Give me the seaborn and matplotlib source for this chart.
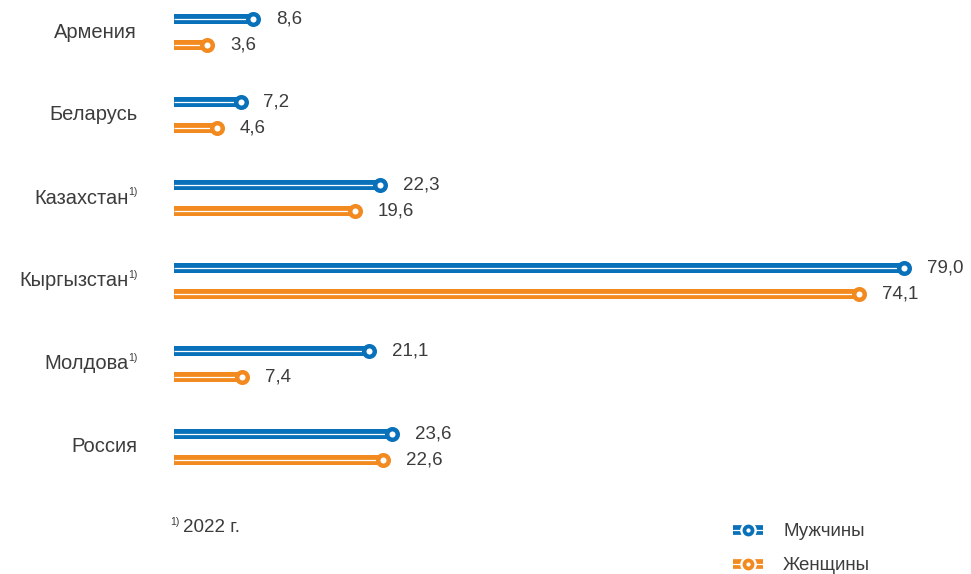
import matplotlib
matplotlib.use("Agg")
import matplotlib.pyplot as plt
import pandas as pd
import seaborn as sns
from matplotlib.legend_handler import HandlerTuple
from matplotlib.lines import Line2D

# data
countries = ["Армения", "Беларусь", "Казахстан", "Кыргызстан", "Молдова", "Россия"]
has_note = [False, False, True, True, True, False]
men = [8.6, 7.2, 22.3, 79.0, 21.1, 23.6]
women = [3.6, 4.6, 19.6, 74.1, 7.4, 22.6]
series = ["Мужчины", "Женщины"]
colours = {"Мужчины": "#0971B9", "Женщины": "#F28A20"}

TEXT = "#3c3c3c"
FONT = ["Liberation Sans", "DejaVu Sans"]

df = pd.DataFrame({
    "country": countries * 2,
    "sex": [series[0]] * len(countries) + [series[1]] * len(countries),
    "value": men + women,
})

sns.set_theme(style="white")
plt.rcParams["font.family"] = FONT

W, H = 971, 574
fig = plt.figure(figsize=(W / 100, H / 100), dpi=100)
left_px = 174
ax = fig.add_axes([left_px / W, 0, (W - left_px) / W, 1])

px_per_unit = (904 - left_px) / 79.0
group_px = 83.0
offset = 13.0 / group_px
bar_h = 10.0 / group_px

sns.barplot(
    data=df, x="value", y="country", hue="sex", order=countries,
    hue_order=series, palette=colours, orient="h", width=4 * offset,
    errorbar=None, legend=False, saturation=1, linewidth=0, ax=ax,
)
# thin the dodged bars down to a stripe, keeping their centres
for p in ax.patches:
    mid = p.get_y() + p.get_height() / 2
    p.set_y(mid - bar_h / 2)
    p.set_height(bar_h)

for k, (name, vals) in enumerate(zip(series, [men, women])):
    off = -offset if k == 0 else offset
    ys = [i + off for i in range(len(countries))]
    ax.hlines(ys, 0, vals, color="white", lw=0.9, zorder=3)
    ax.plot(vals, ys, "o", ms=7.6, mfc="white", mec=colours[name],
            mew=3.2, zorder=4, clip_on=False)
    for v, y in zip(vals, ys):
        ax.annotate(f"{v:.1f}".replace(".", ","), (v, y), xytext=(16.5, 0),
                    textcoords="offset points", va="center", ha="left",
                    fontsize=13.5, color=TEXT)

# country names with optional footnote mark
for i, (name, note) in enumerate(zip(countries, has_note)):
    if note:
        ax.annotate("1)", (0, i), xytext=(-26.5, 4.5), textcoords="offset points",
                    va="center", ha="right", fontsize=7.5, color=TEXT,
                    annotation_clip=False)
        shift = -32.5
    else:
        shift = -26.5
    ax.annotate(name, (0, i), xytext=(shift, 0), textcoords="offset points",
                va="center", ha="right", fontsize=14.5, color=TEXT,
                annotation_clip=False)

ax.set_xlim(0, (W - left_px) / px_per_unit)
ax.set_ylim((H - 32) / group_px, -32 / group_px)
ax.set_xlabel("")
ax.set_ylabel("")
ax.set_xticks([])
ax.set_yticks([])
sns.despine(ax=ax, left=True, bottom=True)

# footnote
fig.text(170 / W, 1 - 522 / H, "1)", fontsize=7.5, color=TEXT, va="center")
fig.text(183 / W, 1 - 527 / H, "2022 г.", fontsize=13.5, color=TEXT,
         va="center")

# legend: striped bar with ring marker
handles = []
for name in series:
    c = colours[name]
    handles.append((
        Line2D([], [], color=c, lw=7.0, solid_capstyle="butt"),
        Line2D([], [], color="white", lw=0.9),
        Line2D([], [], marker="o", ls="", ms=11, mfc="white", mec="white"),
        Line2D([], [], marker="o", ls="", ms=5.8, mfc="white", mec=c, mew=2.7),
    ))
fig.legend(
    handles, series, handler_map={tuple: HandlerTuple(ndivide=1, pad=0)},
    loc="upper left", bbox_to_anchor=(733 / W, 1 - 523 / H), frameon=False,
    labelcolor=TEXT, handlelength=1.6, handletextpad=1.07,
    labelspacing=0.9, borderpad=0, borderaxespad=0,
    prop={"family": FONT, "size": 13.5},
)

fig.savefig("out.png", dpi=100)
